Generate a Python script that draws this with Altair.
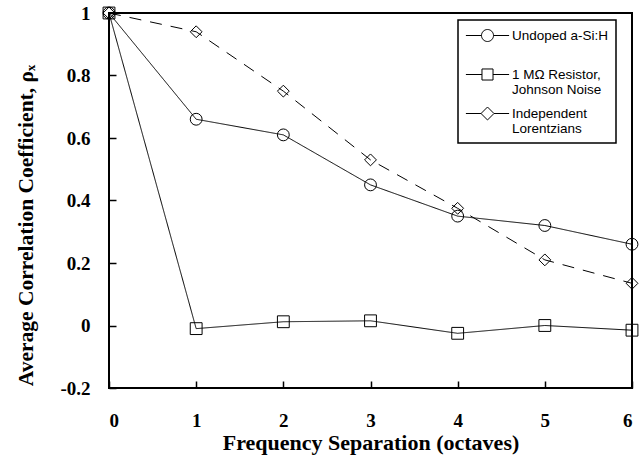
import altair as alt
import pandas as pd

octaves = [0, 1, 2, 3, 4, 5, 6]
undoped = [1.0, 0.66, 0.61, 0.45, 0.35, 0.32, 0.26]
resistor = [1.0, -0.01, 0.012, 0.015, -0.025, 0.0, -0.015]
lorentzians = [1.0, 0.94, 0.75, 0.53, 0.375, 0.21, 0.135]
series = ["Undoped a-Si:H", "1 MΩ Resistor,|Johnson Noise", "Independent|Lorentzians"]
y_ticks = [-0.2, 0, 0.2, 0.4, 0.6, 0.8, 1]
x_ticks = [0, 1, 2, 3, 4, 5, 6]

rows = []
for name, vals in zip(series, [undoped, resistor, lorentzians]):
    for o, v in zip(octaves, vals):
        rows.append({"octave": o, "rho": v, "series": name})
df = pd.DataFrame(rows)

W, H = 523, 375
serif = "Liberation Serif"

xscale = alt.Scale(domain=[0, 6], nice=False, zero=False)
yscale = alt.Scale(domain=[-0.2, 1], nice=False, zero=False)

base = alt.Chart(df)

lines = base.mark_line(color="black", strokeWidth=1).encode(
    x=alt.X("octave:Q", scale=xscale,
            axis=alt.Axis(title="Frequency Separation (octaves)", values=x_ticks, format="d",
                          ticks=False, domain=False, grid=False, labelPadding=23, titlePadding=2)),
    y=alt.Y("rho:Q", scale=yscale,
            axis=alt.Axis(title="Average Correlation Coefficient, ρₓ", values=y_ticks,
                          labelExpr="replace(format(datum.value, '~g'), '−', '-')",
                          ticks=False, domain=False, grid=False, labelPadding=19, titlePadding=22,
                          titleY=212, titleFontSize=21.5)),
    strokeDash=alt.StrokeDash("series:N", scale=alt.Scale(domain=series, range=[[1, 0], [1, 0], [12, 9]]), legend=None),
    detail="series:N",
)

points = base.mark_point(filled=False, color="black", strokeWidth=1, opacity=1, size=140).encode(
    x=alt.X("octave:Q", scale=xscale,
            axis=alt.Axis(orient="top", offset=-H, labels=False, ticks=True, tickSize=7, tickWidth=1.5,
                          tickColor="black", domain=False, grid=False, title=None, values=x_ticks)),
    y=alt.Y("rho:Q", scale=yscale,
            axis=alt.Axis(orient="right", offset=-W, labels=False, ticks=True, tickSize=7, tickWidth=1.5,
                          tickColor="black", domain=False, grid=False, title=None, values=y_ticks)),
    shape=alt.Shape("series:N", scale=alt.Scale(domain=series, range=["circle", "square", "diamond"]), legend=None),
)

legend_paths = [
    "M-2.7,0L-0.75,0M0.75,0L2.7,0M0.75,0A0.75,0.75,0,1,1,-0.75,0A0.75,0.75,0,1,1,0.75,0Z",
    "M-2.7,0L-0.69,0M0.69,0L2.7,0M-0.69,-0.69L0.69,-0.69L0.69,0.69L-0.69,0.69Z",
    "M-2.7,0L-0.81,0M0.81,0L2.7,0M-0.81,0L0,-0.81L0.81,0L0,0.81Z",
]

legend_layer = base.transform_filter("datum.octave < 0").mark_point(
    filled=False, color="black", strokeWidth=1, size=256
).encode(
    x=alt.X("octave:Q", scale=xscale, axis=None),
    y=alt.Y("rho:Q", scale=yscale, axis=None),
    shape=alt.Shape("series:N", scale=alt.Scale(domain=series, range=legend_paths),
                    legend=alt.Legend(title=None, orient="none", legendX=349, legendY=7, padding=7,
                                      strokeColor="black", fillColor="white",
                                      symbolStrokeColor="black", symbolFillColor="white",
                                      symbolStrokeWidth=1, symbolSize=256, symbolOpacity=1,
                                      symbolOffset=14,
                                      labelFont="Liberation Sans", labelFontSize=13.5, labelColor="black",
                                      labelOffset=16, labelBaseline="middle", labelLimit=300,
                                      rowPadding=8,
                                      labelExpr="split(datum.label + (indexof(datum.label, '|') < 0 ? '|' : ''), '|')")),
)

chart = alt.layer(lines, points, legend_layer).resolve_scale(
    shape="independent"
).resolve_axis(
    x="independent", y="independent"
).properties(
    width=W, height=H,
    autosize=alt.AutoSizeParams(type="none"),
    padding={"left": 109, "top": 13, "right": 11, "bottom": 72},
    background="white",
).configure_view(
    stroke="black", strokeWidth=2
).configure_axis(
    labelFont=serif, labelFontWeight="bold", labelFontSize=19, labelColor="black",
    titleFont=serif, titleFontWeight="bold", titleFontSize=22, titleColor="black",
).configure_legend(
    strokeWidth=1.5
)

chart.save("out.html", embed_options={"renderer": "svg", "actions": False})
